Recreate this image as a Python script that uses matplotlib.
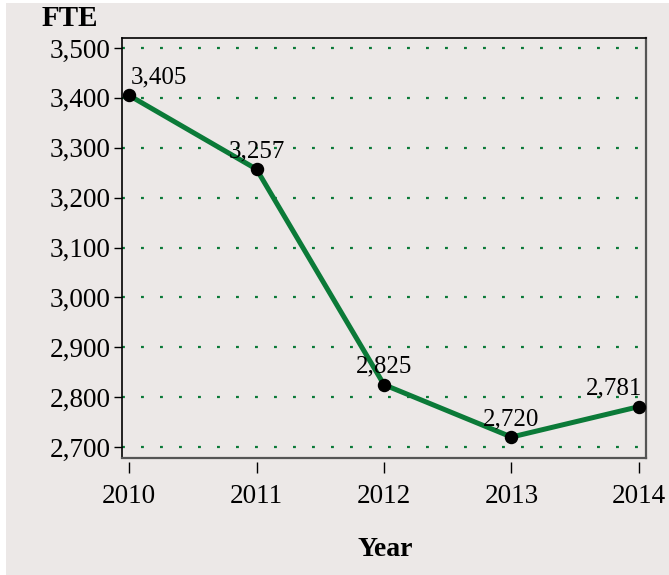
import matplotlib.pyplot as plt
from matplotlib.patches import Rectangle

# data
years = [2010, 2011, 2012, 2013, 2014]
fte = [3405, 3257, 2825, 2720, 2781]
yticks = [2700, 2800, 2900, 3000, 3100, 3200, 3300, 3400, 3500]

# label offsets (points) per point
label_offsets = [(1, 5), (0, 5), (0, 5), (0, 5), (-18, 5)]

BG = "#ece8e7"
GREEN = "#0b7a38"

plt.rcParams["font.family"] = ["Liberation Serif", "DejaVu Serif"]

fig = plt.figure(figsize=(6.69, 5.75), dpi=100, facecolor="white")
fig.patches.append(Rectangle((6 / 669, 0), 1, 572 / 575, transform=fig.transFigure,
                             facecolor=BG, edgecolor="none", zorder=-10))

ax = fig.add_axes([122 / 669, 1 - 458 / 575, (646 - 122) / 669, (458 - 38) / 575])
ax.set_facecolor(BG)

ax.plot(years, fte, color=GREEN, lw=3.6, zorder=3, solid_joinstyle="round")
ax.scatter(years, fte, s=75, color="black", zorder=4)

for x, y, (dx, dy) in zip(years, fte, label_offsets):
    ha = "left" if dx > 0 else "center"
    ax.annotate(f"{y:,}", (x, y), xytext=(dx, dy), textcoords="offset points",
                ha=ha, va="bottom", fontsize=18, zorder=5)

ax.set_xlim(2009.945, 2014.055)
ax.set_ylim(2678, 3520)
ax.set_yticks(yticks)
ax.set_yticklabels([f"{v:,}" for v in yticks], fontsize=19.5)
ax.tick_params(axis="y", length=6, width=1, pad=2)

# x ticks slightly detached from the frame
ax.tick_params(axis="x", bottom=False, labelbottom=False)
sec = ax.secondary_xaxis(-0.01)
sec.set_xticks(years)
sec.set_xticklabels([str(y) for y in years], fontsize=19.5)
sec.tick_params(axis="x", length=8, width=1, pad=8)
sec.spines["bottom"].set_visible(False)

for y in yticks:
    ax.axhline(y, color=GREEN, lw=1.6, dashes=(1.3, 7.25), dash_capstyle="butt", zorder=1)

for side in ["left", "top"]:
    ax.spines[side].set_color("black")
    ax.spines[side].set_linewidth(1.2)
for side in ["right", "bottom"]:
    ax.spines[side].set_color("#555555")
    ax.spines[side].set_linewidth(1.6)

fig.text(42 / 669, 1 - 18 / 575, "FTE", fontsize=21, fontweight="bold", va="center", ha="left")
fig.text(385 / 669, 1 - 549 / 575, "Year", fontsize=20, fontweight="bold", va="center", ha="center")

fig.savefig("out.png", dpi=100, facecolor=fig.get_facecolor())
